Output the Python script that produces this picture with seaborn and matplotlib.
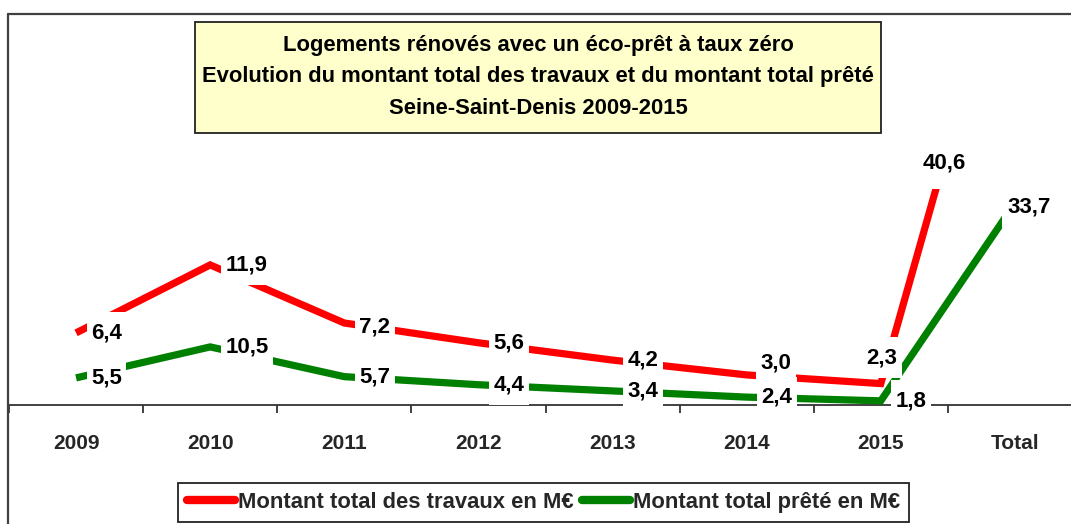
import matplotlib
matplotlib.use("Agg")
import matplotlib.pyplot as plt
from matplotlib.path import Path
from matplotlib.patches import Rectangle
from matplotlib.lines import Line2D
import seaborn as sns
import pandas as pd

# ---------------- data ----------------
categories = ['2009', '2010', '2011', '2012', '2013', '2014', '2015', 'Total']
travaux = [6.4, 11.9, 7.2, 5.6, 4.2, 3.0, 2.3, 40.6]
prete = [5.5, 10.5, 5.7, 4.4, 3.4, 2.4, 1.8, 33.7]
series_names = ['Montant total des travaux en M€', 'Montant total prêté en M€']
title_lines = ['Logements rénovés avec un éco-prêt à taux zéro',
               'Evolution du montant total des travaux et du montant total prêté',
               'Seine-Saint-Denis 2009-2015']

# ---------------- style ----------------
sns.set_style('white')
plt.rcParams['font.family'] = ['Liberation Sans', 'DejaVu Sans']
plt.rcParams['font.weight'] = 'bold'

W, H = 1071, 524
fig = plt.figure(figsize=(W / 100, H / 100), dpi=100)
fig.patch.set_facecolor('white')

def fx(px):
    return px / W

def fy(py):
    return 1 - py / H

RED = '#FF0000'
GREEN = '#008000'
DARK = '#333333'

# plot area
ax = fig.add_axes([fx(9), fy(405), (1082 - 9) / W, (405 - 189) / H])
ax2 = ax.twinx()
for a in (ax, ax2):
    a.set_facecolor('none')
    for s in a.spines.values():
        s.set_visible(False)
    a.set_yticks([])
    a.grid(False)

df = pd.DataFrame({'cat': categories, 'travaux': travaux, 'prete': prete})
df['x'] = range(len(categories))

sns.lineplot(data=df, x='x', y='travaux', ax=ax, color=RED, linewidth=5.2,
             sort=False, legend=False)
sns.lineplot(data=df, x='x', y='prete', ax=ax2, color=GREEN, linewidth=5.2,
             sort=False, legend=False)
for a in (ax, ax2):
    for ln in a.get_lines():
        ln.set_solid_joinstyle('miter')
        ln.set_solid_capstyle('butt')

# scales (independent primary / secondary axes, hidden)
ax.set_ylim(7 / 12.36, (412 - 189) / 12.36)
ax2.set_ylim(7 / 6.2, (412 - 189) / 6.2)
ax.set_xlim(-0.5, len(categories) - 0.5)
ax.set_ylabel('')
ax2.set_ylabel('')
ax.set_xlabel('')

# x axis: line + ticks at category boundaries, labels centred
ax.spines['bottom'].set_visible(True)
ax.spines['bottom'].set_color(DARK)
ax.spines['bottom'].set_linewidth(1.3)
ax.set_xticks([i - 0.5 for i in range(len(categories) + 1)])
ax.set_xticklabels([])
ax.tick_params(axis='x', which='major', direction='out', length=6, width=1.3,
               color=DARK, bottom=True)
ax.set_xticks(range(len(categories)), minor=True)
ax.set_xticklabels(categories, minor=True, fontsize=15, fontweight='bold')
ax.tick_params(axis='x', which='minor', length=0, pad=21)
ax2.tick_params(axis='x', which='both', length=0, labelbottom=False)

# data label box (Excel style: tall white box)
def label_box(x0, y0, width, height, mutation_size):
    px = 0.2 * mutation_size
    py = 0.45 * mutation_size
    return Path([(x0 - px, y0 - py), (x0 + width + px, y0 - py),
                 (x0 + width + px, y0 + height + py), (x0 - px, y0 + height + py),
                 (x0 - px, y0 - py)], closed=True)

def fmt(v):
    return f'{v:.1f}'.replace('.', ',')

# label offsets in pixels (dx, dy, ha); dy > 0 is upward
red_offsets = [(15, 0, 'left'), (15, 0, 'left'), (15, -4, 'left'),
               (15, 0, 'left'), (15, 0, 'left'), (14, 12, 'left'),
               (1, 26, 'center')]
green_offsets = [(15, 0, 'left')] * 7 + [(-8, -4, 'left')]

lbl_kw = dict(fontsize=16, fontweight='bold', color='black', va='center',
              textcoords='offset pixels', annotation_clip=False,
              bbox=dict(boxstyle=label_box, fc='white', ec='none'), zorder=10)

for i in range(len(categories) - 1):
    dx, dy, ha = red_offsets[i]
    ax2.annotate(fmt(travaux[i]), xy=(i, travaux[i]), xycoords=ax.transData,
                 xytext=(dx, dy), ha=ha, **lbl_kw)
# total of red series is beyond the plot area: label at the clipped end
ytop = ax.get_ylim()[1]
n = len(categories) - 1
xc = (n - 1) + (ytop - travaux[n - 1]) / (travaux[n] - travaux[n - 1])
ax2.annotate(fmt(travaux[n]), xy=(xc, ytop), xycoords=ax.transData,
             xytext=(8, 26), ha='center', **lbl_kw)

for i in range(len(categories)):
    dx, dy, ha = green_offsets[i]
    ax2.annotate(fmt(prete[i]), xy=(i, prete[i]), xycoords=ax2.transData,
                 xytext=(dx, dy), ha=ha, **lbl_kw)

# chart frame (clipped at right/bottom)
fig.add_artist(Line2D([fx(8), fx(8)], [fy(14), 0], color='#404040', lw=1.6))
fig.add_artist(Line2D([fx(8), 1], [fy(14), fy(14)], color='#404040', lw=1.6))

# title box
fig.add_artist(Rectangle((fx(195), fy(133)), fx(881 - 195), (133 - 22) / H,
                         fc='#FFFFCC', ec='#222222', lw=1.3))
for k, t in enumerate(title_lines):
    fig.text(fx(538), fy(45 + 31.5 * k), t, ha='center', va='center',
             fontsize=15.8, fontweight='bold', color='black')

# legend
handles = [Line2D([], [], color=RED, lw=6, solid_capstyle='round'),
           Line2D([], [], color=GREEN, lw=6, solid_capstyle='round')]
leg = fig.legend(handles, series_names, loc='upper left',
                 bbox_to_anchor=(fx(178), fy(483)), ncol=2, frameon=True,
                 fancybox=False, edgecolor='#222222', framealpha=1,
                 prop={'size': 15.8, 'weight': 'bold'}, handlelength=2.2,
                 handletextpad=0.15, columnspacing=0.35, borderpad=0.4,
                 borderaxespad=0)
leg.get_frame().set_linewidth(1.3)

fig.savefig('out.png', dpi=100)
